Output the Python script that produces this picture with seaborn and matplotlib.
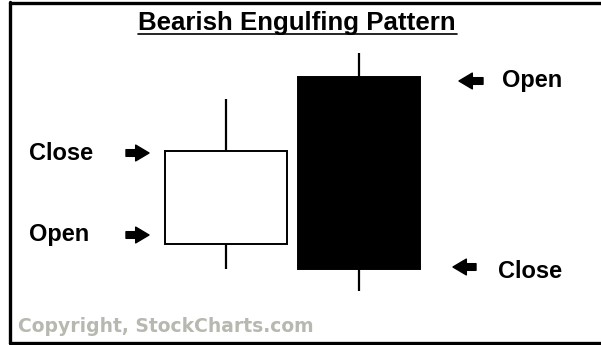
import matplotlib.pyplot as plt
import seaborn as sns
from matplotlib.lines import Line2D

# candle data (price units)
days = ["Day 1", "Day 2"]
opens = [10.1, 26.8]
highs = [24.6, 29.2]
lows = [7.6, 5.4]
closes = [19.4, 7.6]

title = "Bearish Engulfing Pattern"
copyright_text = "Copyright, StockCharts.com"

W, H = 601, 345

sns.set_theme(style="white")
plt.rcParams["font.family"] = ["Liberation Sans", "DejaVu Sans"]

fig = plt.figure(figsize=(W / 100, H / 100), dpi=100)
ax = fig.add_axes([0, 0, 1, 1])
ax.set_axis_off()

# x: day index -> pixel 226 + 133 * i ; y: price -> pixel 345 - 10 * p
ax.set_xlim(-226 / 133, (W - 226) / 133)
ax.set_ylim(0, H / 10)

xs = list(range(len(days)))
body_w = 0.91
for i in xs:
    o, c = opens[i], closes[i]
    bear = c < o
    ax.vlines(i, lows[i], highs[i], color="black", lw=1.6, zorder=1)
    ax.bar(i, abs(c - o), bottom=min(o, c), width=body_w,
           color="black" if bear else "white", edgecolor="black",
           linewidth=1.4, zorder=2)


def fx(x):
    return x / W


def fy(y):
    return 1 - y / H


# frame
for (x0, y0, x1, y1) in [(10, 2, 10, 343), (10, 2.5, W, 2.5), (10, 343, W, 343)]:
    fig.add_artist(Line2D([fx(x0), fx(x1)], [fy(y0), fy(y1)], color="black", lw=2.4,
                          transform=fig.transFigure))

fig.text(fx(297), fy(30), title, ha="center", va="baseline", fontsize=18.6,
         fontweight="bold", color="black")
fig.add_artist(Line2D([fx(138), fx(457)], [fy(34), fy(34)], color="black", lw=1.2,
                      transform=fig.transFigure))

label_kw = dict(fontsize=17, fontweight="bold", color="black", va="center")
fig.text(fx(29), fy(153), "Close", ha="left", **label_kw)
fig.text(fx(29), fy(235), "Open", ha="left", **label_kw)
fig.text(fx(502), fy(81), "Open", ha="left", **label_kw)
fig.text(fx(498), fy(271), "Close", ha="left", **label_kw)

arrow = dict(arrowstyle="simple,head_length=0.8,head_width=0.95,tail_width=0.4",
             color="black", shrinkA=0, shrinkB=0)
for (xa, xb, y) in [(126, 149, 153), (126, 149, 235), (483, 459, 81), (476, 453, 267)]:
    ax.annotate("", xy=(fx(xb), fy(y)), xytext=(fx(xa), fy(y)),
                xycoords="figure fraction", textcoords="figure fraction",
                arrowprops=arrow)

fig.text(fx(18), fy(327), copyright_text, ha="left", va="center", fontsize=13.5,
         fontweight="bold", color="#b8b8b0", family="DejaVu Sans")

fig.savefig("out.png", dpi=100, facecolor="white")
